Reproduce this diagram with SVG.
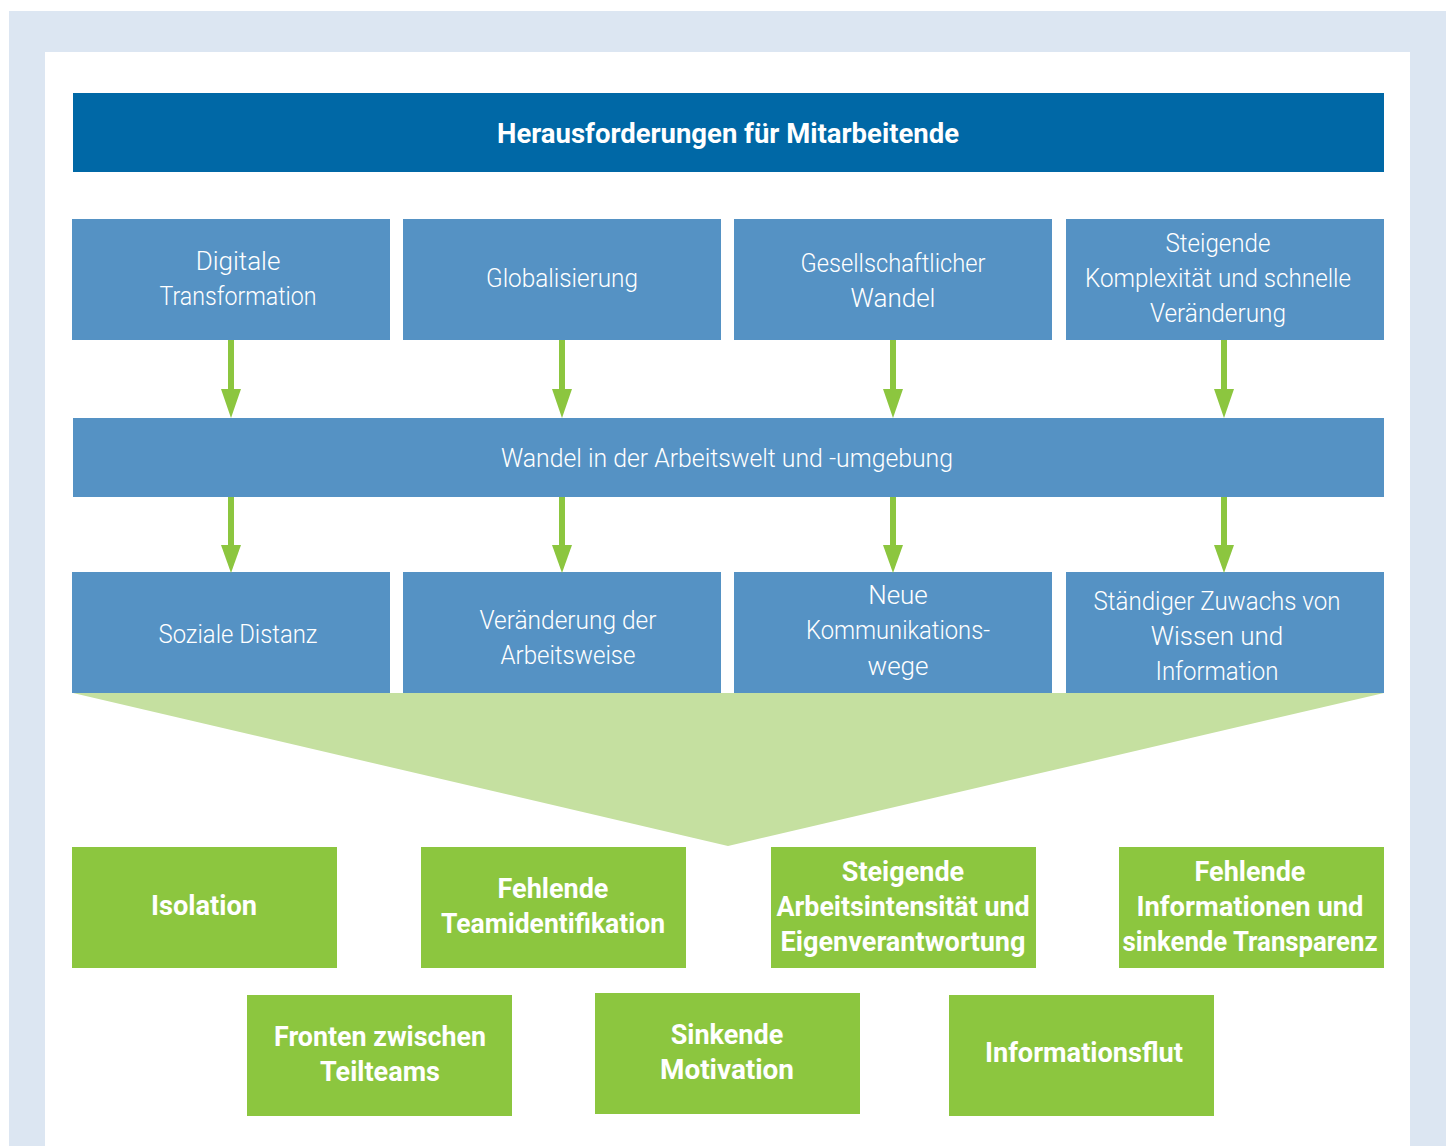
<svg xmlns="http://www.w3.org/2000/svg" width="1452" height="1146" viewBox="0 0 1452 1146">
<style>
.bg{fill:#dce6f2}
.hdr{fill:#0068a6}
.blue{fill:#5592c4}
.grn{fill:#8cc63f}
.fun{fill:#c5e0a0}
.t{font-family:Roboto,"Liberation Sans",sans-serif;font-size:26px;font-weight:300;fill:#fff;text-anchor:middle}
.b{font-family:Roboto,"Liberation Sans",sans-serif;font-size:27px;font-weight:700;fill:#fff;text-anchor:middle}
.arr{stroke:#8cc63f;stroke-width:6;fill:none}
.ah{fill:#8cc63f}
</style>
<rect x="9" y="11" width="1437" height="1135" class="bg"/>
<rect x="45" y="52" width="1365" height="1094" fill="#fff"/>
<polygon class="fun" points="73,693 1384,693 728,846"/>
<g id="header"><rect x="73" y="93" width="1311" height="79" class="hdr"/><text x="728" y="143" class="b" textLength="462" lengthAdjust="spacingAndGlyphs">Herausforderungen für Mitarbeitende</text></g>
<g id="n1"><rect x="72" y="219" width="318" height="121" class="blue"/><text x="238" y="270" class="t">Digitale</text><text x="238" y="305" class="t" textLength="157" lengthAdjust="spacingAndGlyphs">Transformation</text></g>
<g id="n2"><rect x="403" y="219" width="318" height="121" class="blue"/><text x="562" y="287" class="t" textLength="152" lengthAdjust="spacingAndGlyphs">Globalisierung</text></g>
<g id="n3"><rect x="734" y="219" width="318" height="121" class="blue"/><text x="893" y="272" class="t" textLength="185" lengthAdjust="spacingAndGlyphs">Gesellschaftlicher</text><text x="893" y="307" class="t">Wandel</text></g>
<g id="n4"><rect x="1066" y="219" width="318" height="121" class="blue"/><text x="1218" y="252" class="t" textLength="105" lengthAdjust="spacingAndGlyphs">Steigende</text><text x="1218" y="287" class="t" textLength="266" lengthAdjust="spacingAndGlyphs">Komplexität und schnelle</text><text x="1218" y="322" class="t" textLength="136" lengthAdjust="spacingAndGlyphs">Veränderung</text></g>
<g id="mid"><rect x="73" y="418" width="1311" height="79" class="blue"/><text x="727" y="467" class="t" textLength="452" lengthAdjust="spacingAndGlyphs">Wandel in der Arbeitswelt und -umgebung</text></g>
<g id="n5"><rect x="72" y="572" width="318" height="121" class="blue"/><text x="238" y="643" class="t" textLength="159" lengthAdjust="spacingAndGlyphs">Soziale Distanz</text></g>
<g id="n6"><rect x="403" y="572" width="318" height="121" class="blue"/><text x="568" y="629" class="t" textLength="177" lengthAdjust="spacingAndGlyphs">Veränderung der</text><text x="568" y="664" class="t" textLength="135" lengthAdjust="spacingAndGlyphs">Arbeitsweise</text></g>
<g id="n7"><rect x="734" y="572" width="318" height="121" class="blue"/><text x="898" y="604" class="t">Neue</text><text x="898" y="639" class="t" textLength="184" lengthAdjust="spacingAndGlyphs">Kommunikations-</text><text x="898" y="675" class="t">wege</text></g>
<g id="n8"><rect x="1066" y="572" width="318" height="121" class="blue"/><text x="1217" y="610" class="t" textLength="247" lengthAdjust="spacingAndGlyphs">Ständiger Zuwachs von</text><text x="1217" y="645" class="t">Wissen und</text><text x="1217" y="680" class="t" textLength="123" lengthAdjust="spacingAndGlyphs">Information</text></g>
<g id="g1"><rect x="72" y="847" width="265" height="121" class="grn"/><text x="204" y="915" class="b" textLength="106" lengthAdjust="spacingAndGlyphs">Isolation</text></g>
<g id="g2"><rect x="421" y="847" width="265" height="121" class="grn"/><text x="553" y="898" class="b">Fehlende</text><text x="553" y="933" class="b" textLength="224" lengthAdjust="spacingAndGlyphs">Teamidentifikation</text></g>
<g id="g3"><rect x="771" y="847" width="265" height="121" class="grn"/><text x="903" y="881" class="b">Steigende</text><text x="903" y="916" class="b" textLength="253" lengthAdjust="spacingAndGlyphs">Arbeitsintensität und</text><text x="903" y="951" class="b" textLength="245" lengthAdjust="spacingAndGlyphs">Eigenverantwortung</text></g>
<g id="g4"><rect x="1119" y="847" width="265" height="121" class="grn"/><text x="1250" y="881" class="b">Fehlende</text><text x="1250" y="916" class="b" textLength="227" lengthAdjust="spacingAndGlyphs">Informationen und</text><text x="1250" y="951" class="b" textLength="255" lengthAdjust="spacingAndGlyphs">sinkende Transparenz</text></g>
<g id="g5"><rect x="247" y="995" width="265" height="121" class="grn"/><text x="380" y="1046" class="b" textLength="212" lengthAdjust="spacingAndGlyphs">Fronten zwischen</text><text x="380" y="1081" class="b">Teilteams</text></g>
<g id="g6"><rect x="595" y="993" width="265" height="121" class="grn"/><text x="727" y="1044" class="b">Sinkende</text><text x="727" y="1079" class="b" textLength="134" lengthAdjust="spacingAndGlyphs">Motivation</text></g>
<g id="g7"><rect x="949" y="995" width="265" height="121" class="grn"/><text x="1084" y="1062" class="b" textLength="198" lengthAdjust="spacingAndGlyphs">Informationsflut</text></g>
<g id="connectors">
<line class="arr" x1="231" y1="340" x2="231" y2="392"/><polygon class="ah" points="221,389 241,389 231,418"/>
<line class="arr" x1="562" y1="340" x2="562" y2="392"/><polygon class="ah" points="552,389 572,389 562,418"/>
<line class="arr" x1="893" y1="340" x2="893" y2="392"/><polygon class="ah" points="883,389 903,389 893,418"/>
<line class="arr" x1="1224" y1="340" x2="1224" y2="392"/><polygon class="ah" points="1214,389 1234,389 1224,418"/>
<line class="arr" x1="231" y1="497" x2="231" y2="548"/><polygon class="ah" points="221,545 241,545 231,573"/>
<line class="arr" x1="562" y1="497" x2="562" y2="548"/><polygon class="ah" points="552,545 572,545 562,573"/>
<line class="arr" x1="893" y1="497" x2="893" y2="548"/><polygon class="ah" points="883,545 903,545 893,573"/>
<line class="arr" x1="1224" y1="497" x2="1224" y2="548"/><polygon class="ah" points="1214,545 1234,545 1224,573"/>
</g>
</svg>
